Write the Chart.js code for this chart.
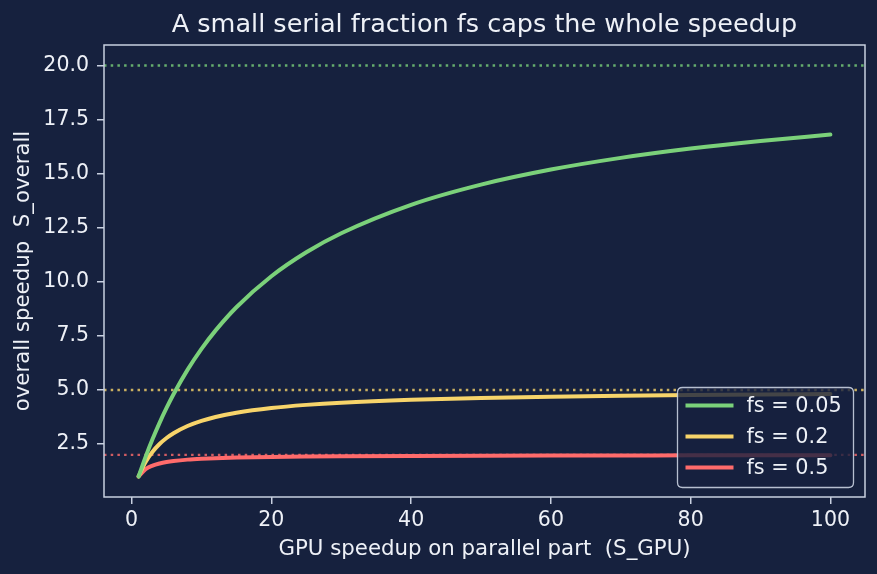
<!DOCTYPE html>
<html>
<head>
<meta charset="utf-8">
<script src="https://cdn.jsdelivr.net/npm/chart.js@4.4.1/dist/chart.umd.min.js"></script>
<style>
  html, body { margin: 0; padding: 0; background: #16213e; }
  #wrap { width: 877px; height: 574px; position: relative; }
</style>
</head>
<body>
<div id="wrap"><canvas id="c" width="877" height="574"></canvas></div>
<script>
// ---- data ----
const sGpu = [1, 2, 3, 4, 5, 6, 8, 10, 12, 15, 20, 25, 30, 40, 50, 60, 70, 80, 90, 100];
const fs005 = [1.00, 1.905, 2.727, 3.478, 4.167, 4.80, 5.926, 6.897, 7.742, 8.824, 10.256, 11.364, 12.245, 13.559, 14.493, 15.19, 15.73, 16.162, 16.514, 16.807];
const fs020 = [1.00, 1.667, 2.143, 2.50, 2.778, 3.00, 3.333, 3.571, 3.75, 3.947, 4.167, 4.31, 4.412, 4.545, 4.63, 4.688, 4.73, 4.762, 4.787, 4.808];
const fs050 = [1.00, 1.333, 1.50, 1.60, 1.667, 1.714, 1.778, 1.818, 1.846, 1.875, 1.905, 1.923, 1.935, 1.951, 1.961, 1.967, 1.972, 1.975, 1.978, 1.980];
const seriesLabels = ['fs = 0.05', 'fs = 0.2', 'fs = 0.5'];
const caps = [20, 5, 2];            // 1/fs ceilings
const xTicks = [0, 20, 40, 60, 80, 100];
const yTicks = [2.5, 5.0, 7.5, 10.0, 12.5, 15.0, 17.5, 20.0];
const titleText = 'A small serial fraction fs caps the whole speedup';

const colors = ['#7bd17a', '#f7d46a', '#ff6b6b'];
const capColors = ['rgba(123,209,122,0.8)', 'rgba(247,212,106,0.8)', 'rgba(255,107,107,0.8)'];
const BG = '#16213e';
const FG = '#eef1f7';
const SPINE = '#c8d0e0';
const FONT = "'DejaVu Sans', sans-serif";

const toXY = arr => sGpu.map((x, i) => ({ x: x, y: arr[i] }));
const seriesVals = [fs005, fs020, fs050];

const bgPlugin = {
  id: 'bg',
  beforeDraw(chart) {
    const ctx = chart.ctx;
    ctx.save();
    ctx.fillStyle = BG;
    ctx.fillRect(0, 0, chart.width, chart.height);
    ctx.restore();
  }
};

const capPlugin = {
  id: 'caps',
  beforeDatasetsDraw(chart) {
    const ctx = chart.ctx, a = chart.chartArea, ys = chart.scales.y;
    ctx.save();
    ctx.beginPath(); ctx.rect(a.left, a.top, a.right - a.left, a.bottom - a.top); ctx.clip();
    ctx.lineWidth = 2.4;
    ctx.setLineDash([2.5, 4.2]);
    caps.forEach((c, i) => {
      const y = ys.getPixelForValue(c);
      ctx.strokeStyle = capColors[i];
      ctx.beginPath(); ctx.moveTo(a.left, y); ctx.lineTo(a.right, y); ctx.stroke();
    });
    ctx.restore();
  }
};

const frameLegendPlugin = {
  id: 'frameLegend',
  afterDraw(chart) {
    const ctx = chart.ctx, a = chart.chartArea;
    ctx.save();
    // title centred over the plot area
    ctx.font = '25.5px ' + FONT;
    ctx.fillStyle = FG;
    ctx.textAlign = 'center';
    ctx.textBaseline = 'middle';
    ctx.fillText(titleText, (a.left + a.right) / 2, 25);
    ctx.textAlign = 'left';
    // spines
    ctx.strokeStyle = SPINE; ctx.lineWidth = 1.5; ctx.setLineDash([]);
    ctx.strokeRect(a.left, a.top, a.right - a.left, a.bottom - a.top);
    // legend box
    const bx = 677.5, by = 387.5, bw = 176, bh = 100, r = 5;
    ctx.beginPath();
    ctx.moveTo(bx + r, by); ctx.lineTo(bx + bw - r, by); ctx.quadraticCurveTo(bx + bw, by, bx + bw, by + r);
    ctx.lineTo(bx + bw, by + bh - r); ctx.quadraticCurveTo(bx + bw, by + bh, bx + bw - r, by + bh);
    ctx.lineTo(bx + r, by + bh); ctx.quadraticCurveTo(bx, by + bh, bx, by + bh - r);
    ctx.lineTo(bx, by + r); ctx.quadraticCurveTo(bx, by, bx + r, by);
    ctx.closePath();
    ctx.fillStyle = 'rgba(22,33,62,0.8)';
    ctx.fill();
    ctx.strokeStyle = 'rgba(200,208,224,0.9)';
    ctx.lineWidth = 1.3;
    ctx.stroke();
    ctx.font = '20.8px ' + FONT;
    ctx.textBaseline = 'middle';
    ctx.fillStyle = FG;
    chart.data.datasets.slice(0, 3).forEach((ds, i) => {
      const y = by + 18 + i * 31;
      ctx.strokeStyle = ds.borderColor; ctx.lineWidth = 4;
      ctx.beginPath(); ctx.moveTo(bx + 8, y); ctx.lineTo(bx + 56, y); ctx.stroke();
      ctx.fillText(ds.label, bx + 69, y + 1);
    });
    ctx.restore();
  }
};

new Chart(document.getElementById('c'), {
  type: 'line',
  data: {
    datasets: seriesVals.map((v, i) => ({
      label: seriesLabels[i],
      data: toXY(v),
      borderColor: colors[i],
      backgroundColor: colors[i],
      borderWidth: 4,
      pointRadius: 0,
      fill: false,
      cubicInterpolationMode: 'monotone',
      borderCapStyle: 'round',
      borderJoinStyle: 'round'
    }))
  },
  options: {
    responsive: false,
    animation: false,
    devicePixelRatio: 1,
    layout: { padding: { left: 0, right: 12, top: 45, bottom: 0 } },
    plugins: {
      legend: { display: false },
      tooltip: { enabled: false },
      title: { display: false }
    },
    scales: {
      x: {
        type: 'linear',
        min: -3.95, max: 104.95,
        afterFit(s) { s.height = 77; },
        afterBuildTicks(s) { s.ticks = xTicks.map(v => ({ value: v })); },
        ticks: { color: FG, font: { family: FONT, size: 20.5 }, padding: 4, maxRotation: 0, autoSkip: false,
                 callback: v => String(v) },
        grid: { display: true, drawOnChartArea: false, drawTicks: true, tickLength: 7, color: SPINE, lineWidth: 1.5 },
        border: { display: false },
        title: { display: true, text: 'GPU speedup on parallel part  (S_GPU)', color: FG,
                 font: { family: FONT, size: 21.3 }, padding: { top: 4, bottom: 12 } }
      },
      y: {
        type: 'linear',
        min: 0.05, max: 20.95,
        afterFit(s) { s.width = 104; },
        afterBuildTicks(s) { s.ticks = yTicks.map(v => ({ value: v })); },
        ticks: { color: FG, font: { family: FONT, size: 20.5 }, padding: 8, autoSkip: false,
                 callback: v => Number(v).toFixed(1) },
        grid: { display: true, drawOnChartArea: false, drawTicks: true, tickLength: 7, color: SPINE, lineWidth: 1.5 },
        border: { display: false },
        title: { display: true, text: 'overall speedup  S_overall', color: FG,
                 font: { family: FONT, size: 21.3 }, padding: { top: 11, bottom: 0 } }
      }
    }
  },
  plugins: [bgPlugin, capPlugin, frameLegendPlugin]
});
</script>
</body>
</html>
